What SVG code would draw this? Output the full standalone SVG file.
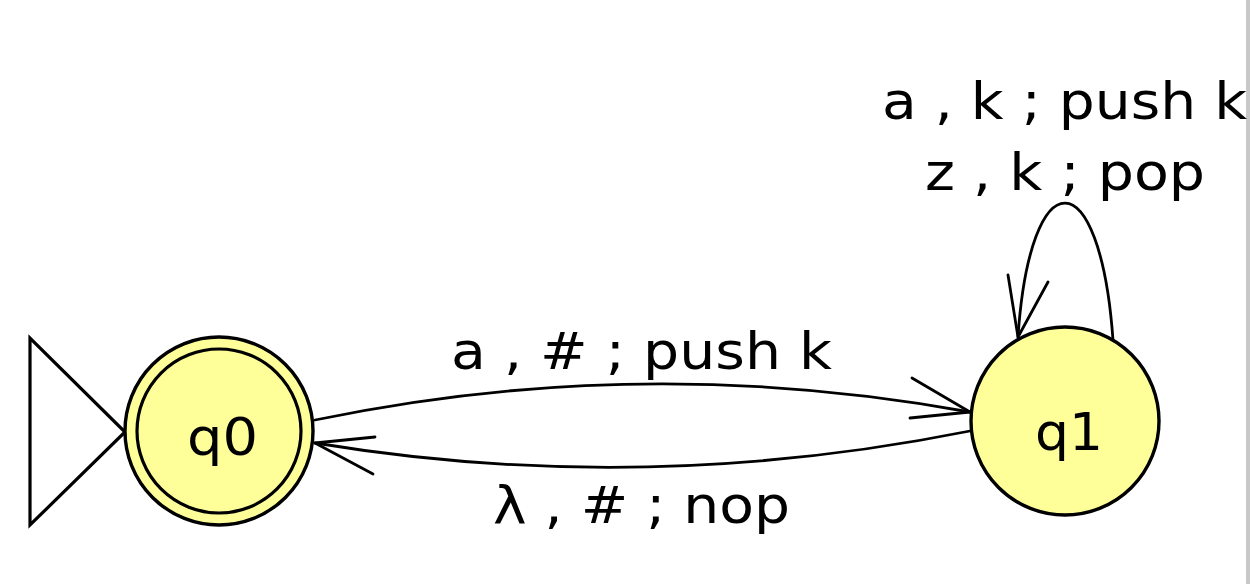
<svg xmlns="http://www.w3.org/2000/svg" width="1250" height="584" viewBox="0 0 1250 584">
<style>
.st{fill:#ffff99;stroke:#000;stroke-width:3.4}
.ln{fill:none;stroke:#000;stroke-width:2.8;stroke-linecap:round;stroke-linejoin:round}
.lb{font-family:"DejaVu Sans",sans-serif;font-size:52px;fill:#000;text-anchor:middle}
</style>
<rect width="1250" height="584" fill="#fff"/>
<rect x="1246" y="0" width="4" height="584" fill="#c8c8c8"/>
<g id="connectors">
<path class="ln" d="M315,420 Q641,352 970,412"/>
<path class="ln" d="M912,378 L970,412 L910,418"/>
<path class="ln" d="M970,431 Q641,497 315,443"/>
<path class="ln" d="M375,437 L315,443 L373,474"/>
<path class="ln" d="M1113,340 C1100,158 1030,158 1018,337"/>
<path class="ln" d="M1008,275 L1018,337 L1048,282"/>
<text class="lb" x="641.5" y="369" textLength="381" lengthAdjust="spacingAndGlyphs">a , # ; push k</text>
<text class="lb" x="641.5" y="523" textLength="297" lengthAdjust="spacingAndGlyphs">λ , # ; nop</text>
<text class="lb" x="1064.5" y="119" textLength="365" lengthAdjust="spacingAndGlyphs">a , k ; push k</text>
<text class="lb" x="1065" y="190" textLength="280" lengthAdjust="spacingAndGlyphs">z , k ; pop</text>
</g>
<g id="start">
<path d="M30,338 L30,525 L125,432 Z" fill="#fff" stroke="#000" stroke-width="3.2" stroke-linejoin="miter"/>
</g>
<g id="q0">
<circle class="st" cx="219" cy="431" r="94"/>
<circle cx="219" cy="431" r="82" fill="none" stroke="#000" stroke-width="3.2"/>
<text class="lb" x="222.5" y="455" textLength="71" lengthAdjust="spacingAndGlyphs">q0</text>
</g>
<g id="q1">
<circle class="st" cx="1065" cy="421" r="94"/>
<text class="lb" x="1069" y="450" textLength="68" lengthAdjust="spacingAndGlyphs">q1</text>
</g>
</svg>
